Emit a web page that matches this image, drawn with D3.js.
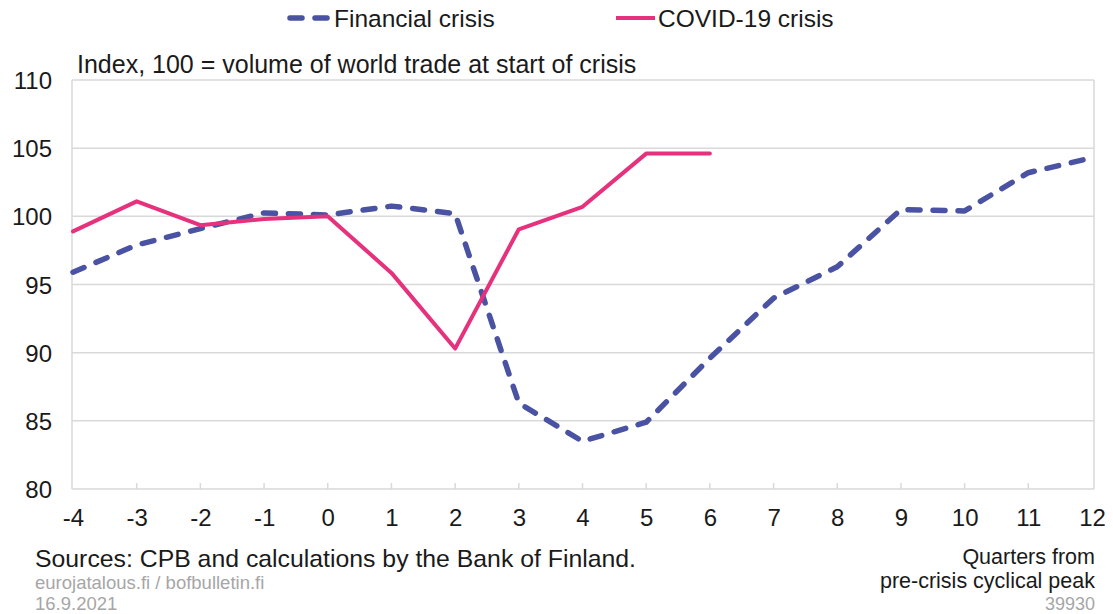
<!DOCTYPE html>
<html><head><meta charset="utf-8">
<script src="https://cdn.jsdelivr.net/npm/d3@7"></script>
<style>body{margin:0;background:#fff}svg{display:block}text{font-family:"Liberation Sans",Arial,sans-serif}</style>
</head><body><svg id="c" width="1113" height="614"></svg>
<script>
const quarters = [-4,-3,-2,-1,0,1,2,3,4,5,6,7,8,9,10,11,12];
const financial = [95.9,97.9,99.1,100.25,100.1,100.75,100.2,86.3,83.5,84.9,89.6,94.0,96.3,100.5,100.4,103.2,104.3];
const covid = [98.9,101.1,99.35,99.8,100.0,95.85,90.3,99.05,100.7,104.6,104.6];
const yTicks = [80,85,90,95,100,105,110];
const seriesNames = ["Financial crisis","COVID-19 crisis"];

const svg = d3.select("#c");
const x = d3.scaleLinear().domain([-4,12]).range([73,1092]);
const y = d3.scaleLinear().domain([80,110]).range([489,80]);
const gray = "#d9d9d9";
const ink = "#1a1a1a";
const blue = "#4a52a3", pink = "#e6317c";

// gridlines
svg.append("g").selectAll("line").data(yTicks).join("line")
  .attr("x1",72).attr("x2",1094).attr("y1",d=>y(d)).attr("y2",d=>y(d))
  .attr("stroke",gray).attr("stroke-width",1.5);
// plot borders
svg.append("line").attr("x1",72).attr("x2",72).attr("y1",y(110)).attr("y2",y(80)).attr("stroke",gray).attr("stroke-width",1.5);
svg.append("line").attr("x1",1094).attr("x2",1094).attr("y1",y(110)).attr("y2",y(80)).attr("stroke",gray).attr("stroke-width",1.5);

// x axis
const xAxis = d3.axisBottom(x).tickValues(quarters).tickSize(0).tickPadding(0).tickFormat(d3.format("d"));
const gx = svg.append("g").attr("transform",`translate(0,${y(80)})`).call(xAxis);
gx.select(".domain").remove();
gx.selectAll("text").attr("y",20).attr("dy","0.71em").attr("font-size",24).attr("fill",ink).text(d=> d<0 ? "-"+Math.abs(d) : d);
// inner tick marks
svg.append("g").selectAll("line").data(quarters.slice(1,-1)).join("line")
  .attr("x1",d=>x(d)).attr("x2",d=>x(d)).attr("y1",y(80)).attr("y2",y(80)-6)
  .attr("stroke",gray).attr("stroke-width",1.5);

// y axis
const yAxis = d3.axisLeft(y).tickValues(yTicks).tickSize(0).tickPadding(0);
const gy = svg.append("g").attr("transform","translate(52,0)").call(yAxis);
gy.select(".domain").remove();
gy.selectAll("text").attr("font-size",24).attr("fill",ink).attr("dy","0.36em");

// lines
const lineF = d3.line().x((d,i)=>x(quarters[i])).y(d=>y(d));
svg.append("path").datum(financial).attr("d",lineF).attr("fill","none")
  .attr("stroke",blue).attr("stroke-width",5.5).attr("stroke-dasharray","12,13")
  .attr("stroke-linecap","round").attr("stroke-linejoin","round");
svg.append("path").datum(covid).attr("d",lineF).attr("fill","none")
  .attr("stroke",pink).attr("stroke-width",4).attr("stroke-linejoin","round").attr("stroke-linecap","round");

// legend
const lg = svg.append("g");
lg.append("line").attr("x1",290).attr("x2",330).attr("y1",18).attr("y2",18)
  .attr("stroke",blue).attr("stroke-width",5.5).attr("stroke-dasharray","12,13").attr("stroke-linecap","round");
lg.append("text").attr("x",334).attr("y",18).attr("dy","0.35em").attr("font-size",24.5).attr("fill",ink).text(seriesNames[0]);
lg.append("line").attr("x1",616).attr("x2",655).attr("y1",18).attr("y2",18)
  .attr("stroke",pink).attr("stroke-width",4);
lg.append("text").attr("x",658).attr("y",18).attr("dy","0.35em").attr("font-size",24.5).attr("fill",ink).text(seriesNames[1]);

// subtitle
svg.append("text").attr("x",77).attr("y",73).attr("font-size",25).attr("fill",ink)
  .text("Index, 100 = volume of world trade at start of crisis");

// footer
svg.append("text").attr("x",35).attr("y",567).attr("font-size",24.8).attr("fill",ink)
  .text("Sources: CPB and calculations by the Bank of Finland.");
svg.append("text").attr("x",35).attr("y",589).attr("font-size",18.5).attr("fill","#a6a6a6")
  .text("eurojatalous.fi / bofbulletin.fi");
svg.append("text").attr("x",35).attr("y",610).attr("font-size",18.5).attr("fill","#a6a6a6")
  .text("16.9.2021");
svg.append("text").attr("x",1095).attr("y",564).attr("text-anchor","end").attr("font-size",21.5).attr("fill",ink)
  .text("Quarters from");
svg.append("text").attr("x",1095).attr("y",588).attr("text-anchor","end").attr("font-size",21.5).attr("fill",ink)
  .text("pre-crisis cyclical peak");
svg.append("text").attr("x",1095).attr("y",610).attr("text-anchor","end").attr("font-size",18).attr("fill","#a6a6a6")
  .text("39930");
</script></body></html>
